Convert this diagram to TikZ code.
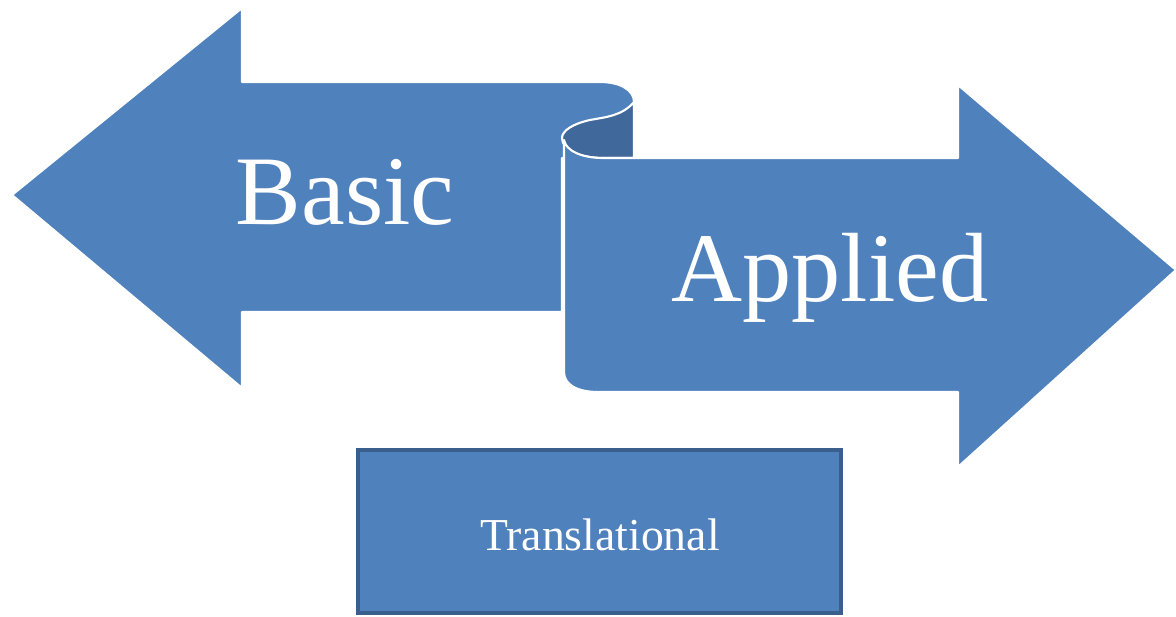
\documentclass[tikz,border=0pt]{standalone}
\usepackage{fontspec}
\setmainfont{Liberation Serif}
\usepackage{tikz}
\definecolor{arrowblue}{HTML}{4F81BD}
\definecolor{curlblue}{HTML}{41689A}
\definecolor{edgeblue}{HTML}{3A5F8C}
\tikzset{bigarrow/.style={fill=arrowblue, draw=white, line width=1.2pt, line join=round},
         curl/.style={fill=curlblue, draw=white, line width=1.2pt},
         label/.style={text=white, anchor=base, inner sep=0mm},
         boxed/.style={fill=arrowblue, draw=edgeblue, line width=1.8pt}}

\begin{document}
\begin{tikzpicture}[x=0.02cm, y=-0.02cm]
    \useasboundingbox (0,0) rectangle (1176,617);

    % left arrow, with its rolled end
    \draw[bigarrow] (12,195) -- (242,8) -- (242,82) -- (600,82)
        .. controls (620,82) and (634,90) .. (634,102) -- (634,158)
        -- (562,158) -- (562,312) -- (242,312) -- (242,388) -- cycle;
    \draw[curl] (634,102) .. controls (622,116) and (606,117) .. (590,120)
        .. controls (572,124) and (562,131) .. (562,138)
        .. controls (562,150) and (580,158) .. (603,158) -- (634,158) -- cycle;

    % right arrow
    \draw[bigarrow] (603,158) -- (958,158) -- (958,85) -- (1176,270)
        -- (958,467) -- (958,392) -- (598,392)
        .. controls (578,392) and (564,385) .. (564,372) -- (564,140)
        .. controls (566,151) and (582,158) .. (603,158);

    \node (basic) [label] at (345,225) {\fontsize{56}{60}\selectfont Basic};
    \node (applied) [label] at (830,302) {\fontsize{56}{60}\selectfont Applied};

    \draw[boxed] (358,450) rectangle (841,613);
    \node (trans) [label] at (600,551) {\fontsize{26}{30}\selectfont Translational};
\end{tikzpicture}
\end{document}
